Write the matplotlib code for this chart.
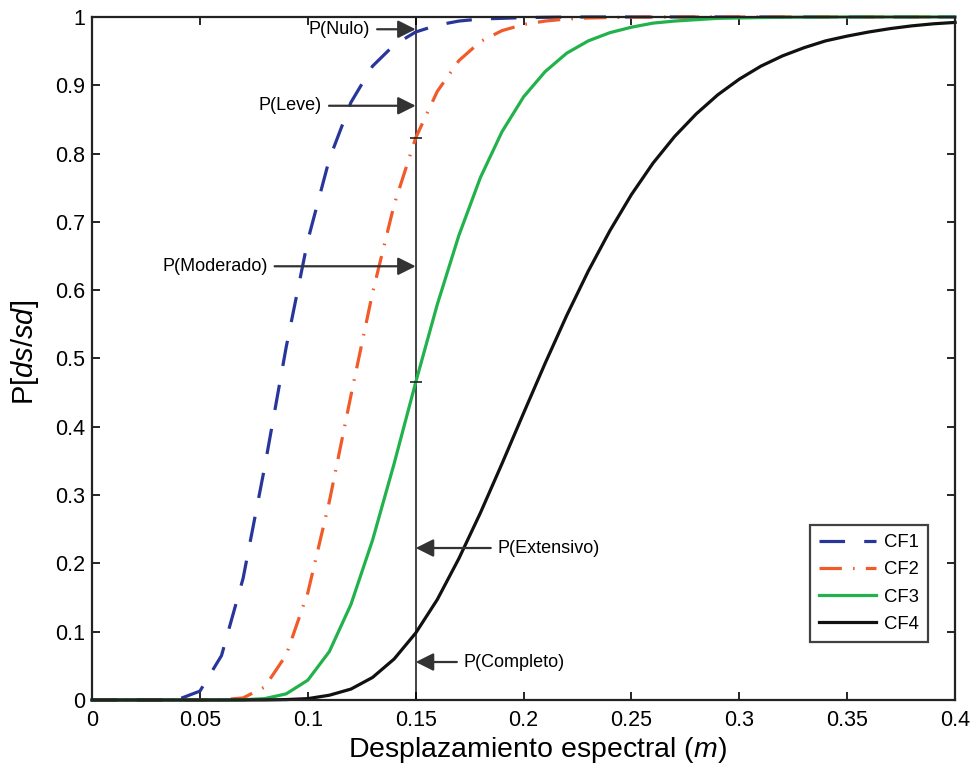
"""
Curvas de fragilidad CF1-CF4 vs desplazamiento espectral
"""

import matplotlib
matplotlib.use("Agg")
import matplotlib.pyplot as plt

plt.rcParams['font.family'] = ['Liberation Sans', 'DejaVu Sans']
plt.rcParams['mathtext.fontset'] = 'custom'
plt.rcParams['mathtext.rm'] = 'Liberation Sans'
plt.rcParams['mathtext.it'] = 'Liberation Sans:italic'

# Desplazamiento espectral (m)
sd = [0.00, 0.01, 0.02, 0.03, 0.04, 0.05, 0.06, 0.07, 0.08, 0.09,
      0.10, 0.11, 0.12, 0.13, 0.14, 0.15, 0.16, 0.17, 0.18, 0.19,
      0.20, 0.21, 0.22, 0.23, 0.24, 0.25, 0.26, 0.27, 0.28, 0.29,
      0.30, 0.31, 0.32, 0.33, 0.34, 0.35, 0.36, 0.37, 0.38, 0.39, 0.40]

cf1 = [0, 0, 0, 0, 0.001, 0.013, 0.065, 0.178, 0.341, 0.517,
       0.673, 0.792, 0.875, 0.928, 0.959, 0.978, 0.988, 0.994, 0.997, 0.998,
       0.999, 0.9995, 0.9998, 1, 1, 1, 1, 1, 1, 1,
       1, 1, 1, 1, 1, 1, 1, 1, 1, 1, 1]

cf2 = [0, 0, 0, 0, 0, 0, 0.0003, 0.003, 0.019, 0.066,
       0.157, 0.291, 0.446, 0.596, 0.725, 0.823, 0.891, 0.936, 0.964, 0.980,
       0.989, 0.994, 0.997, 0.9985, 0.9992, 0.9996, 0.9998, 1, 1, 1,
       1, 1, 1, 1, 1, 1, 1, 1, 1, 1, 1]

cf3 = [0, 0, 0, 0, 0, 0, 0, 0.0003, 0.002, 0.009,
       0.029, 0.071, 0.140, 0.234, 0.346, 0.465, 0.579, 0.680, 0.765, 0.832,
       0.883, 0.920, 0.947, 0.965, 0.977, 0.985, 0.991, 0.994, 0.996, 0.998,
       0.9986, 0.9991, 0.9995, 0.9997, 0.9998, 1, 1, 1, 1, 1, 1]

cf4 = [0, 0, 0, 0, 0, 0, 0, 0, 0.0001, 0.0006,
       0.002, 0.007, 0.016, 0.033, 0.060, 0.098, 0.147, 0.207, 0.274, 0.346,
       0.420, 0.493, 0.563, 0.628, 0.687, 0.740, 0.786, 0.825, 0.858, 0.886,
       0.909, 0.928, 0.943, 0.955, 0.965, 0.972, 0.978, 0.983, 0.987, 0.990, 0.992]

labels = ['CF1', 'CF2', 'CF3', 'CF4']

# Etiquetas de estados de dano sobre sd = 0.15
sd_ref = 0.15
states = ['P(Nulo)', 'P(Leve)', 'P(Moderado)', 'P(Extensivo)', 'P(Completo)']
state_y = [0.982, 0.870, 0.635, 0.2225, 0.0556]
state_tx = [0.1289, 0.1066, 0.0814, 0.188, 0.1723]

xticks = [0, 0.05, 0.1, 0.15, 0.2, 0.25, 0.3, 0.35, 0.4]
xticklabels = ['0', '0.05', '0.1', '0.15', '0.2', '0.25', '0.3', '0.35', '0.4']
yticks = [0, 0.1, 0.2, 0.3, 0.4, 0.5, 0.6, 0.7, 0.8, 0.9, 1]
yticklabels = ['0', '0.1', '0.2', '0.3', '0.4', '0.5', '0.6', '0.7', '0.8', '0.9', '1']

fig = plt.figure(figsize=(9.73, 7.71), dpi=100)
ax = fig.add_axes([0.0946, 0.0921, 0.887, 0.8859])

ax.plot(sd, cf1, color='#28369c', lw=2.3, dashes=(8, 6), label=labels[0], clip_on=False)
ax.plot(sd, cf2, color='#f15a29', lw=2.3, dashes=(7, 3.5, 0.5, 3.5), label=labels[1], clip_on=False)
ax.plot(sd, cf3, color='#22b24c', lw=2.3, label=labels[2], clip_on=False)
ax.plot(sd, cf4, color='#111111', lw=2.3, label=labels[3], clip_on=False)

# linea vertical en sd = 0.15
ax.plot([sd_ref, sd_ref], [0, 1], color='#222222', lw=1.2, zorder=1)
ax.plot([sd_ref, sd_ref], [cf2[15], cf3[15]], ls='none', marker='_', ms=8,
        color='#222222', mew=1.2)

for i, s in enumerate(states):
    ha = 'right' if state_tx[i] < sd_ref else 'left'
    ax.annotate(s, xy=(sd_ref, state_y[i]), xytext=(state_tx[i], state_y[i]),
                ha=ha, va='center', fontsize=13,
                arrowprops=dict(arrowstyle='-|>,head_length=0.6,head_width=0.3',
                                mutation_scale=18, color='#333333', lw=1.6,
                                shrinkA=3, shrinkB=0))

ax.set_xlim(0, 0.4)
ax.set_ylim(0, 1)
ax.set_xticks(xticks)
ax.set_xticklabels(xticklabels)
ax.set_yticks(yticks)
ax.set_yticklabels(yticklabels)
ax.tick_params(direction='in', length=6, width=1.2, labelsize=15.5,
               top=True, right=True, pad=5)
ax.tick_params(axis='x', pad=7)
for sp in ax.spines.values():
    sp.set_linewidth(1.6)
    sp.set_color('#222222')

ax.set_xlabel(r'Desplazamiento espectral ($m$)', fontsize=20.5, labelpad=3)
ax.xaxis.label.set_x(0.516)
ax.set_ylabel(r'P[$ds/sd$]', fontsize=21, labelpad=10)
ax.yaxis.label.set_y(0.509)

leg = ax.legend(loc='lower right', bbox_to_anchor=(0.9687, 0.085), fontsize=13.3,
                handlelength=3.1, frameon=True, fancybox=False, borderpad=0.5,
                labelspacing=0.55, handletextpad=0.4, borderaxespad=0)
leg.get_frame().set_edgecolor('#111111')
leg.get_frame().set_linewidth(1.6)

plt.savefig('out.png', dpi=100)
plt.close()
